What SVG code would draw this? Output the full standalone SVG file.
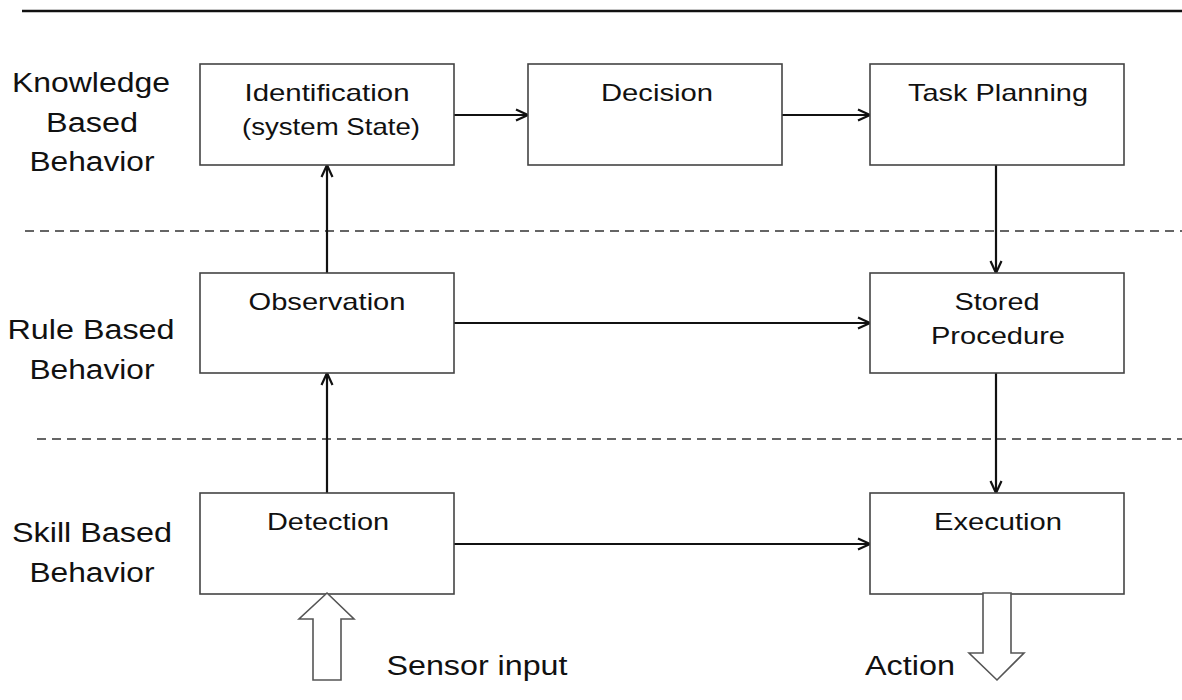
<svg xmlns="http://www.w3.org/2000/svg" width="1182" height="700" viewBox="0 0 1182 700">
<defs>
<style>
.box{fill:#fff;stroke:#444;stroke-width:1.6}
.t{font-family:"Liberation Sans",Arial,sans-serif;font-size:24px;fill:#111;text-anchor:middle}
.lab{font-family:"Liberation Sans",Arial,sans-serif;font-size:27px;fill:#111;text-anchor:middle}
.c{stroke:#111;stroke-width:2.2;fill:none}
.dash{stroke:#333;stroke-width:1.3;stroke-dasharray:9,6;fill:none}
.blk{fill:#fff;stroke:#555;stroke-width:1.6}
</style>
<marker id="ah" viewBox="0 0 14 14" refX="13" refY="7" markerWidth="14" markerHeight="14" markerUnits="userSpaceOnUse" orient="auto">
<path d="M1,1.5 L13,7 L1,12.5" fill="none" stroke="#111" stroke-width="2.2"/>
</marker>
</defs>
<rect width="1182" height="700" fill="#fff"/>
<line x1="22" y1="11" x2="1182" y2="11" stroke="#111" stroke-width="2.5"/>
<line class="dash" x1="25" y1="231" x2="1182" y2="231"/>
<line class="dash" x1="37" y1="439" x2="1182" y2="439"/>

<g id="labels">
<text class="lab" x="91" y="92" textLength="158" lengthAdjust="spacingAndGlyphs">Knowledge</text>
<text class="lab" x="92" y="132" textLength="92" lengthAdjust="spacingAndGlyphs">Based</text>
<text class="lab" x="92" y="171" textLength="125" lengthAdjust="spacingAndGlyphs">Behavior</text>
<text class="lab" x="91" y="339" textLength="167" lengthAdjust="spacingAndGlyphs">Rule Based</text>
<text class="lab" x="92" y="379" textLength="125" lengthAdjust="spacingAndGlyphs">Behavior</text>
<text class="lab" x="92" y="542" textLength="160" lengthAdjust="spacingAndGlyphs">Skill Based</text>
<text class="lab" x="92" y="582" textLength="125" lengthAdjust="spacingAndGlyphs">Behavior</text>
</g>

<g id="connectors">
<line class="c" x1="454" y1="115" x2="528" y2="115" marker-end="url(#ah)"/>
<line class="c" x1="782" y1="115" x2="870" y2="115" marker-end="url(#ah)"/>
<line class="c" x1="996" y1="165" x2="996" y2="273" marker-end="url(#ah)"/>
<line class="c" x1="454" y1="323" x2="870" y2="323" marker-end="url(#ah)"/>
<line class="c" x1="996" y1="373" x2="996" y2="493" marker-end="url(#ah)"/>
<line class="c" x1="454" y1="544" x2="870" y2="544" marker-end="url(#ah)"/>
<line class="c" x1="327" y1="493" x2="327" y2="373" marker-end="url(#ah)"/>
<line class="c" x1="327" y1="273" x2="327" y2="165" marker-end="url(#ah)"/>
</g>

<g id="identification">
<rect class="box" x="200" y="64" width="254" height="101"/>
<text class="t" x="327" y="101" textLength="165" lengthAdjust="spacingAndGlyphs">Identification</text>
<text class="t" x="331" y="135" textLength="178" lengthAdjust="spacingAndGlyphs">(system State)</text>
</g>
<g id="decision">
<rect class="box" x="528" y="64" width="254" height="101"/>
<text class="t" x="657" y="101" textLength="112" lengthAdjust="spacingAndGlyphs">Decision</text>
</g>
<g id="task-planning">
<rect class="box" x="870" y="64" width="254" height="101"/>
<text class="t" x="998" y="101" textLength="180" lengthAdjust="spacingAndGlyphs">Task Planning</text>
</g>
<g id="observation">
<rect class="box" x="200" y="273" width="254" height="100"/>
<text class="t" x="327" y="310" textLength="157" lengthAdjust="spacingAndGlyphs">Observation</text>
</g>
<g id="stored-procedure">
<rect class="box" x="870" y="273" width="254" height="100"/>
<text class="t" x="997" y="310" textLength="85" lengthAdjust="spacingAndGlyphs">Stored</text>
<text class="t" x="998" y="344" textLength="134" lengthAdjust="spacingAndGlyphs">Procedure</text>
</g>
<g id="detection">
<rect class="box" x="200" y="493" width="254" height="101"/>
<text class="t" x="328" y="530" textLength="122" lengthAdjust="spacingAndGlyphs">Detection</text>
</g>
<g id="execution">
<rect class="box" x="870" y="493" width="254" height="101"/>
<text class="t" x="998" y="530" textLength="128" lengthAdjust="spacingAndGlyphs">Execution</text>
</g>

<g id="sensor-input">
<path class="blk" d="M313,680 L313,619 L299,619 L327,593 L354,619 L341,619 L341,680 Z"/>
<text class="lab" x="477" y="675" textLength="181" lengthAdjust="spacingAndGlyphs">Sensor input</text>
</g>
<g id="action">
<path class="blk" d="M983,593 L1011,593 L1011,653 L1024,653 L997,680 L969,653 L983,653 Z"/>
<text class="lab" x="910" y="675" textLength="90" lengthAdjust="spacingAndGlyphs">Action</text>
</g>
</svg>
